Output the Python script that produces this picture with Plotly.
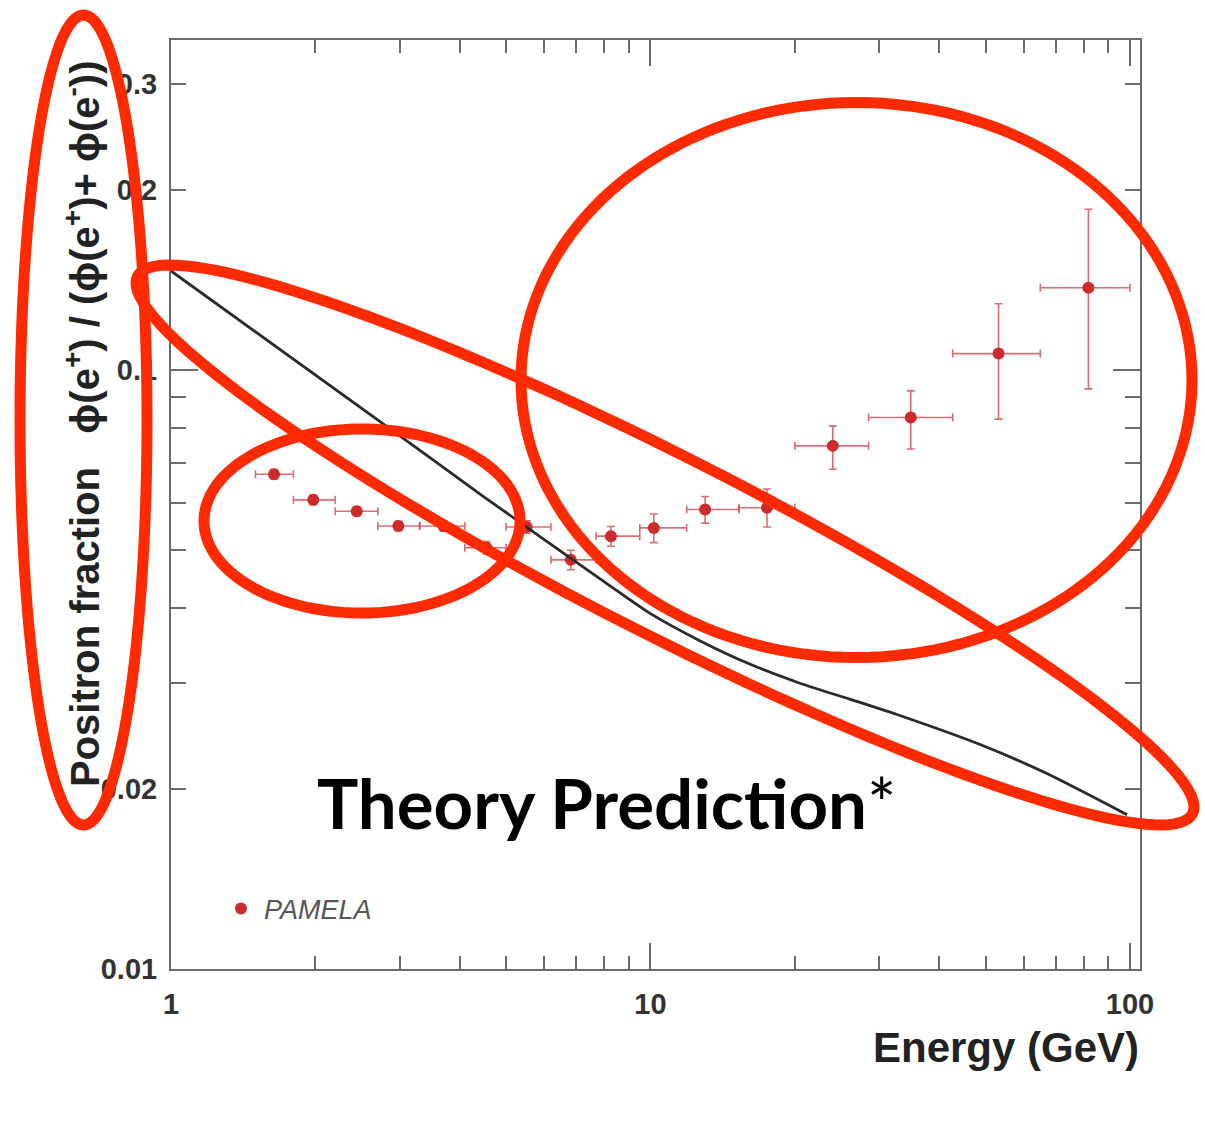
import math
import plotly.graph_objects as go

# PAMELA positron fraction: bin centre, bin edges, value and asymmetric errors
energy = [1.64, 1.98, 2.44, 2.98, 3.70, 4.55, 5.52, 6.82, 8.27, 10.16, 13.0, 17.5, 24.0, 34.9, 53.2, 81.9]
bin_low = [1.5, 1.8, 2.2, 2.7, 3.3, 4.1, 5.0, 6.2, 7.7, 9.5, 11.9, 15.3, 20.0, 28.5, 42.7, 65.0]
bin_high = [1.8, 2.2, 2.7, 3.3, 4.1, 5.0, 6.2, 7.7, 9.5, 11.9, 15.3, 20.0, 28.5, 42.7, 65.0, 100.0]
fraction = [0.0670, 0.0607, 0.0581, 0.0549, 0.0549, 0.0505, 0.0547, 0.0482, 0.0528,
            0.0545, 0.0585, 0.0589, 0.0747, 0.0833, 0.1065, 0.1372]
err_up = [0.0012, 0.0011, 0.0010, 0.0010, 0.0011, 0.0012, 0.0013, 0.0018, 0.0020,
          0.0030, 0.0030, 0.0044, 0.0059, 0.0090, 0.0225, 0.0483]
err_down = [0.0012, 0.0011, 0.0010, 0.0010, 0.0011, 0.0012, 0.0013, 0.0018, 0.0020,
            0.0030, 0.0030, 0.0042, 0.0064, 0.0095, 0.0237, 0.0442]

# secondary-production prediction curve
theory_energy = [1.0, 2.85, 4.47, 7.85, 10.0, 12.7, 16.1, 20.5, 26.1, 33.1, 48.7, 67.1, 98.6]
theory_fraction = [0.1463, 0.0800, 0.0616, 0.0448, 0.0392, 0.0353, 0.0323, 0.0300,
                   0.0282, 0.0265, 0.0237, 0.0212, 0.0181]

x_tick_vals = [1, 10, 100]
x_tick_text = ["1", "10", "100"]
x_minor_vals = [2, 3, 4, 5, 6, 7, 8, 9, 20, 30, 40, 50, 60, 70, 80, 90]
y_tick_vals = [0.01, 0.02, 0.1, 0.2, 0.3]
y_tick_text = ["0.01", "0.02", "0.1", "0.2", "0.3"]
y_minor_vals = [0.03, 0.04, 0.05, 0.06, 0.07, 0.08, 0.09]
y_long_ticks = [0.1]

# page geometry (px)
W, H = 1205, 1127
L, R, T, B = 171, 65, 40, 158
PW, PH = W - L - R, H - T - B
X_RANGE = [0.0, 2.0209]
Y_RANGE = [-2.0, -0.4491]


def px_x(px):
    return (px - L) / PW


def px_y(py):
    return (H - B - py) / PH


def ellipse_path(cx, cy, rx, ry, angle_deg=0.0, n=160):
    th = math.radians(angle_deg)
    pts = []
    for k in range(n):
        t = 2 * math.pi * k / n
        x = cx + rx * math.cos(t) * math.cos(th) - ry * math.sin(t) * math.sin(th)
        y = cy + rx * math.cos(t) * math.sin(th) + ry * math.sin(t) * math.cos(th)
        pts.append(f"{px_x(x):.5f},{px_y(y):.5f}")
    return "M " + " L ".join(pts) + " Z"


AXIS_GREY = "#6a6a6a"
LABEL_FONT = "Liberation Sans, Arial, Helvetica, sans-serif"
MARK_RED = "#ff2a00"

fig = go.Figure()

fig.add_trace(go.Scatter(
    x=theory_energy, y=theory_fraction, mode="lines",
    line=dict(color="#2a2a2a", width=2.8, shape="spline", smoothing=0.6),
    showlegend=False, hoverinfo="skip", yaxis="y2",
))

fig.add_trace(go.Scatter(
    x=energy, y=fraction, mode="markers", name="PAMELA",
    marker=dict(color="#cc2b2b", size=12),
    error_x=dict(type="data", symmetric=False,
                 array=[h - e for h, e in zip(bin_high, energy)],
                 arrayminus=[e - lo for e, lo in zip(energy, bin_low)],
                 color="rgba(205,60,70,0.75)", thickness=1.6, width=4),
    error_y=dict(type="data", symmetric=False, array=err_up, arrayminus=err_down,
                 color="rgba(205,60,70,0.75)", thickness=1.6, width=4),
))

tick_font = dict(family=LABEL_FONT, size=29, color="#333333", weight="bold")

fig.update_layout(
    width=W, height=H,
    margin=dict(l=L, r=R, t=T, b=B),
    paper_bgcolor="white", plot_bgcolor="white",
    xaxis=dict(
        type="log", range=X_RANGE,
        tickmode="array", tickvals=x_tick_vals, ticktext=x_tick_text,
        ticks="inside", ticklen=26, tickwidth=2, tickcolor=AXIS_GREY,
        minor=dict(tickmode="array", tickvals=x_minor_vals, ticks="inside",
                   ticklen=13, tickwidth=2, tickcolor=AXIS_GREY),
        showline=True, linecolor=AXIS_GREY, linewidth=2, mirror="ticks",
        showgrid=False, zeroline=False,
        tickfont=tick_font, ticklabelstandoff=8,
    ),
    yaxis=dict(
        type="log", range=Y_RANGE,
        tickmode="array", tickvals=y_tick_vals, ticktext=y_tick_text,
        ticks="inside", ticklen=15, tickwidth=2, tickcolor=AXIS_GREY,
        minor=dict(tickmode="array", tickvals=y_minor_vals, ticks="inside",
                   ticklen=15, tickwidth=2, tickcolor=AXIS_GREY),
        showline=True, linecolor=AXIS_GREY, linewidth=2, mirror="ticks",
        showgrid=False, zeroline=False,
        tickfont=tick_font, ticklabelstandoff=6,
    ),
    yaxis2=dict(
        type="log", range=Y_RANGE, overlaying="y", side="left",
        tickmode="array", tickvals=y_long_ticks,
        ticks="inside", ticklen=27, tickwidth=2, tickcolor=AXIS_GREY,
        showticklabels=False, showline=False, mirror="ticks",
        showgrid=False, zeroline=False,
    ),
    legend=dict(
        x=px_x(218), y=px_y(909), xanchor="left", yanchor="middle",
        bgcolor="rgba(0,0,0,0)", borderwidth=0, itemwidth=36,
        font=dict(family=LABEL_FONT, size=27, color="#555555", style="italic"),
    ),
    showlegend=True,
)

# axis titles
fig.add_annotation(
    text="Positron fraction   ϕ(e<sup>+</sup>) / (ϕ(e<sup>+</sup>)+ ϕ(e<sup>-</sup>))",
    xref="paper", yref="paper", x=px_x(82), y=px_y(424),
    xanchor="center", yanchor="middle", textangle=-90, showarrow=False,
    font=dict(family=LABEL_FONT, size=40, color="#222222", weight="bold"),
)
fig.add_annotation(
    text="Energy (GeV)",
    xref="paper", yref="paper", x=px_x(1141), y=px_y(1047),
    xanchor="right", yanchor="middle", showarrow=False,
    font=dict(family=LABEL_FONT, size=42, color="#222222", weight="bold"),
)

# slide call-out text
fig.add_annotation(
    text="<b>Theory Prediction</b>*",
    xref="paper", yref="paper", x=px_x(315), y=px_y(802),
    xanchor="left", yanchor="middle", showarrow=False,
    font=dict(family="Lato, Open Sans, sans-serif", size=69, color="#000000"),
)

# red call-out ellipses: (centre x, centre y, radius x, radius y, rotation) in page px
callouts = [
    (83.5, 420, 63.5, 405, 0.0),
    (362, 521, 158, 92, 0.0),
    (856.5, 380, 335.5, 277.5, 0.0),
    (665, 545, 592, 88, 27.0),
]
for cx, cy, rx, ry, ang in callouts:
    fig.add_shape(
        type="path", path=ellipse_path(cx, cy, rx, ry, ang),
        xref="paper", yref="paper", layer="above",
        line=dict(color=MARK_RED, width=11), fillcolor="rgba(0,0,0,0)",
    )

fig.write_html("out.html")
